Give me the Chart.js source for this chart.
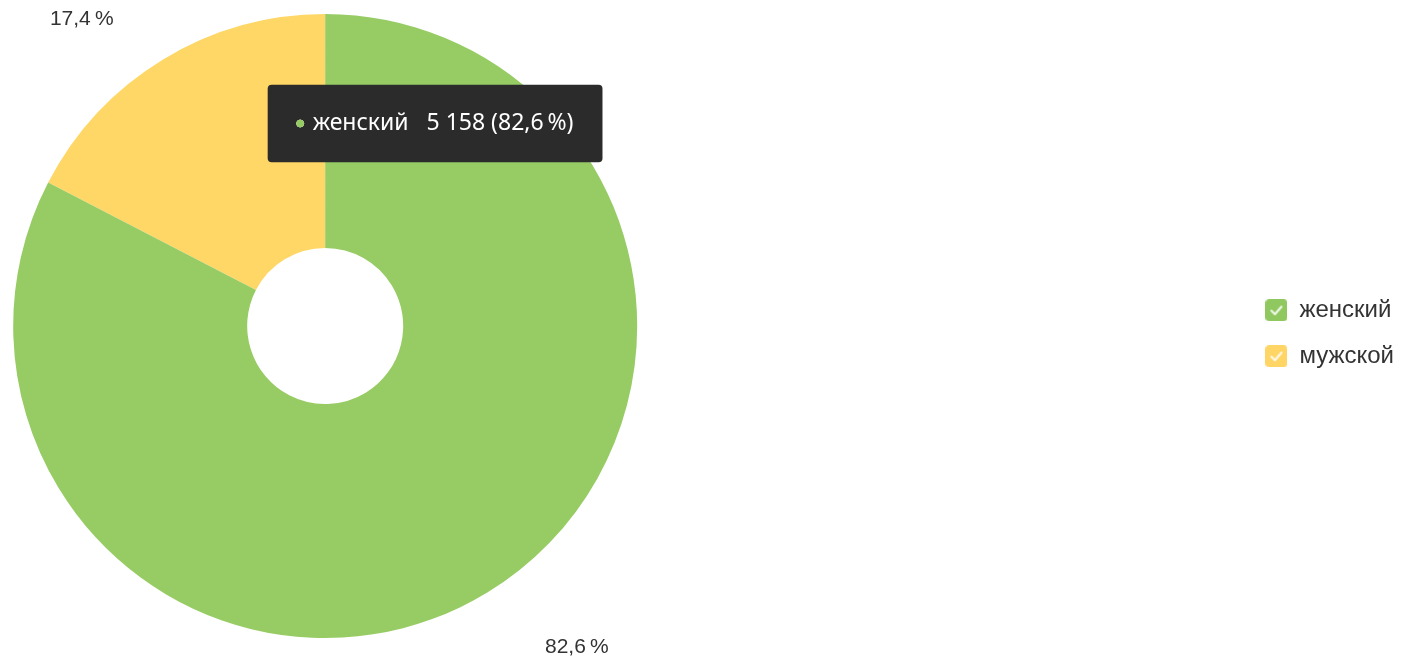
<!DOCTYPE html>
<html>
<head>
<meta charset="utf-8">
<script src="https://cdn.jsdelivr.net/npm/chart.js@4.4.1/dist/chart.umd.min.js"></script>
<style>
  html, body { margin: 0; padding: 0; background: #fff; }
  #wrap { width: 1404px; height: 658px; }
</style>
</head>
<body>
<div id="wrap"><canvas id="chart"></canvas></div>
<script>
const categories = ["женский", "мужской"];
const visits = [5158, 1086];
const sliceColors = ["#97cc64", "#ffd766"];
const legendColors = ["#8fc85e", "#ffd566"];

const total = visits.reduce((a, b) => a + b, 0);
const fmtNum = new Intl.NumberFormat("ru-RU");
const fmtPct = new Intl.NumberFormat("ru-RU", { minimumFractionDigits: 1, maximumFractionDigits: 1 });
function pct(v) {
  return fmtPct.format(v / total * 100) + "\u2009%";
}

// rounded square with a check mark, used as the legend marker
function checkBox(color) {
  const c = document.createElement("canvas");
  c.width = 22;
  c.height = 22;
  const g = c.getContext("2d");
  g.fillStyle = color;
  g.beginPath();
  g.roundRect(0, 0, 22, 22, 4);
  g.fill();
  g.strokeStyle = "rgba(255,255,255,0.85)";
  g.lineWidth = 2.2;
  g.lineCap = "round";
  g.lineJoin = "round";
  g.beginPath();
  g.moveTo(6, 11.5);
  g.lineTo(9.5, 15);
  g.lineTo(16, 7.5);
  g.stroke();
  return c;
}
const markers = legendColors.map(checkBox);

// empty box between the pie and the legend, keeps the pie on the left
const spacer = {
  id: "spacer",
  beforeInit(chart) {
    Chart.layouts.addBox(chart, {
      position: "right",
      weight: 0,
      fullSize: false,
      options: {},
      width: 0, height: 0, top: 0, left: 0, right: 0, bottom: 0,
      isHorizontal() { return false; },
      update(maxWidth, maxHeight) {
        this.width = 606;
        this.height = maxHeight;
      },
      draw() {}
    });
  }
};

// percent labels outside the pie, pushed inside the canvas along a circle
const outerLabels = {
  id: "outerLabels",
  afterDraw(chart) {
    const ctx = chart.ctx;
    const meta = chart.getDatasetMeta(0);
    ctx.save();
    ctx.font = "21px 'Liberation Sans', Arial, sans-serif";
    ctx.fillStyle = "#333";
    ctx.textAlign = "center";
    ctx.textBaseline = "middle";
    meta.data.forEach((arc, i) => {
      const p = arc.getProps(["x", "y", "startAngle", "endAngle", "outerRadius"], true);
      const mid = (p.startAngle + p.endAngle) / 2;
      const R = p.outerRadius + 88;
      let dy = R * Math.sin(mid);
      const yy = Math.min(Math.max(p.y + dy, 19), chart.height - 11);
      dy = yy - p.y;
      const dx = Math.sqrt(Math.max(R * R - dy * dy, 0)) * (Math.cos(mid) < 0 ? -1 : 1);
      ctx.fillText(pct(visits[i]), p.x + dx + 13, yy);
    });
    ctx.restore();
  }
};

Chart.Tooltip.positioners.fixedTop = function () {
  const a = this.chart.chartArea;
  return { x: a.left + a.width * 0.676, y: a.top + a.height * 0.1755 };
};

const chart = new Chart(document.getElementById("chart"), {
  type: "doughnut",
  data: {
    labels: categories,
    datasets: [{
      data: visits,
      backgroundColor: sliceColors,
      hoverBackgroundColor: sliceColors,
      borderWidth: 0,
      hoverBorderWidth: 0,
      hoverOffset: 0
    }]
  },
  options: {
    responsive: true,
    maintainAspectRatio: false,
    animation: false,
    cutout: "25%",
    layout: { padding: { top: 14, bottom: 20, left: 13, right: 0 } },
    plugins: {
      legend: {
        position: "right",
        // blank title only nudges the items a little lower
        title: { display: true, text: " ", padding: 0, font: { size: 12 } },
        labels: {
          usePointStyle: true,
          pointStyleWidth: 22,
          boxHeight: 22,
          padding: 22,
          color: "#333",
          font: { family: "'Liberation Sans', Arial, sans-serif", size: 24 },
          generateLabels(ch) {
            return categories.map((name, i) => ({
              text: name,
              pointStyle: markers[i],
              fillStyle: legendColors[i],
              strokeStyle: legendColors[i],
              lineWidth: 0,
              hidden: false,
              index: i,
              fontColor: "#333"
            }));
          }
        }
      },
      tooltip: {
        enabled: true,
        position: "fixedTop",
        xAlign: "center",
        yAlign: "center",
        caretSize: 0,
        backgroundColor: "#2b2b2b",
        cornerRadius: 4,
        padding: { x: 29, y: 25 },
        usePointStyle: true,
        boxWidth: 7,
        boxHeight: 7,
        boxPadding: 7,
        bodyColor: "#fff",
        bodyFont: { family: "'Noto Sans', sans-serif", size: 23 },
        callbacks: {
          title: () => "",
          label(item) {
            const v = visits[item.dataIndex];
            return categories[item.dataIndex] + "   " + fmtNum.format(v) + " (" + pct(v) + ")";
          },
          labelColor(item) {
            const c = sliceColors[item.dataIndex];
            return { borderColor: c, backgroundColor: c, borderWidth: 0 };
          },
          labelPointStyle() {
            return { pointStyle: "circle", rotation: 0 };
          }
        }
      }
    }
  },
  plugins: [spacer, outerLabels]
});

chart.setActiveElements([{ datasetIndex: 0, index: 0 }]);
chart.tooltip.setActiveElements([{ datasetIndex: 0, index: 0 }], { x: 0, y: 0 });
chart.update();
</script>
</body>
</html>
